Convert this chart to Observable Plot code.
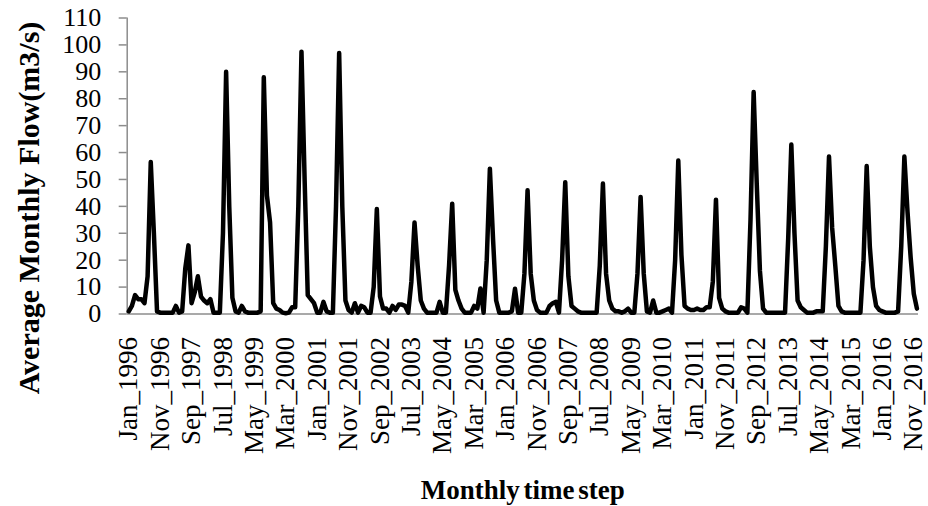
<!DOCTYPE html>
<html>
<head>
<meta charset="utf-8">
<script src="https://cdn.jsdelivr.net/npm/d3@7"></script>
<script src="https://cdn.jsdelivr.net/npm/@observablehq/plot@0.6"></script>
<style>
  html, body { margin: 0; padding: 0; background: #fff; }
  #chart svg { display: block; }
</style>
</head>
<body>
<div id="chart"></div>
<script>
// Average monthly flow (m3/s), one value per month, Jan 1996 .. Dec 2016
const flow = [
  1, 3, 7, 5.5, 5.5, 4, 14, 56.5, 30, 1, 0.5, 0.5,
  0.5, 0.5, 0.5, 3, 0.5, 1, 17, 25.5, 4, 8, 14, 6.5,
  5, 4, 5.5, 0.5, 0.5, 0.5, 30, 90, 40, 6, 1, 0.5,
  3, 1, 0.5, 0.5, 0.5, 0.5, 1, 88, 44, 34, 4, 2,
  1.5, 0.5, 0.3, 0.5, 2.5, 2.5, 40, 97.5, 50, 7, 5.5, 4,
  0.5, 0.5, 4.5, 1, 0.5, 0.5, 40, 97, 40, 5, 1.5, 0.5,
  4, 0.5, 3, 2.5, 0.5, 0.5, 10, 39, 6.5, 2, 2, 0.5,
  3, 1.5, 3.5, 3.5, 3, 0.5, 12, 34, 18, 5, 2, 0.5,
  0.5, 0.5, 0.5, 4.5, 0.5, 0.5, 18, 41, 9, 5, 2, 0.5,
  0.5, 0.5, 3, 2, 9.5, 0.5, 20, 54, 28, 5, 0.5, 0.5,
  0.5, 0.5, 1, 9.4, 0.5, 0.5, 15, 46, 15, 5, 1.5, 0.5,
  0.5, 0.5, 3, 4, 4.5, 0.5, 20, 49, 14, 3, 2, 1,
  0.5, 0.5, 0.5, 0.5, 0.5, 0.5, 18, 48.5, 15, 5, 2, 1,
  1, 0.5, 1, 2, 0.5, 0.5, 15, 43.5, 15, 1, 0.5, 5,
  0.5, 0.5, 1, 1.5, 2, 0.5, 20, 57, 22, 3, 2, 1.5,
  1.5, 2, 1.5, 1.5, 2.5, 2.5, 12, 42.5, 6, 2, 1, 0.5,
  0.5, 0.5, 0.5, 2.5, 2, 0.5, 35, 82.5, 48, 16, 2, 0.5,
  0.5, 0.5, 0.5, 0.5, 0.5, 0.5, 28, 63, 30, 5, 2.5, 1.5,
  0.5, 0.5, 0.5, 1, 1, 1, 25, 58.5, 32, 18, 3, 1,
  0.5, 0.5, 0.5, 0.5, 0.5, 0.5, 20, 55, 25, 10, 3, 1.5,
  1, 0.5, 0.5, 0.5, 0.5, 1, 25, 58.5, 38, 21, 7.5, 2
];

const tickLabels = [
  "Jan_1996", "Nov_1996", "Sep_1997", "Jul_1998", "May_1999", "Mar_2000",
  "Jan_2001", "Nov_2001", "Sep_2002", "Jul_2003", "May_2004", "Mar_2005",
  "Jan_2006", "Nov_2006", "Sep_2007", "Jul_2008", "May_2009", "Mar_2010",
  "Jan_2011", "Nov_2011", "Sep_2012", "Jul_2013", "May_2014", "Mar_2015",
  "Jan_2016", "Nov_2016"
];
const tickStep = 10; // months between labelled ticks
const yTicks = [0, 10, 20, 30, 40, 50, 60, 70, 80, 90, 100, 110];

const yTitle = "Average Monthly Flow(m3/s)";
const xTitle = "Monthly time step";

const data = flow.map((v, i) => ({month: i, flow: v}));
const tickPos = tickLabels.map((_, k) => k * tickStep);
const gray = "#8c8c8c";
const serif = "Liberation Serif";

const chart = Plot.plot({
  width: 928,
  height: 506,
  marginLeft: 126.7,
  marginRight: 10,
  marginTop: 17.5,
  marginBottom: 192.5,
  style: {background: "#fff", color: "#000", fontFamily: serif},
  x: {domain: [-0.5, flow.length - 0.5]},
  y: {domain: [0, 110]},
  marks: [
    Plot.ruleY([0], {stroke: gray, strokeWidth: 1.5}),
    Plot.ruleX([-0.5], {stroke: gray, strokeWidth: 1.5}),
    Plot.axisY({ticks: yTicks, tickSize: 8, tickPadding: 18, fontSize: 26, stroke: gray, strokeWidth: 1.5, fill: "#000", label: null}),
    Plot.axisX({ticks: tickPos, tickFormat: d => tickLabels[Math.round(d / tickStep)], tickRotate: -90, tickSize: 0, tickPadding: 23, fontSize: 27, fill: "#000", label: null}),
    Plot.lineY(data, {x: "month", y: "flow", stroke: "#000", strokeWidth: 4.5, strokeLinejoin: "round", strokeLinecap: "round"}),
    Plot.text([yTitle], {frameAnchor: "left", rotate: -90, dx: -97.7, dy: 42, fontSize: 30, fontWeight: "bold", fill: "#000", textAnchor: "middle", lineAnchor: "middle"}),
    Plot.text([xTitle], {frameAnchor: "bottom", dy: 176.5, fontSize: 27, fontWeight: "bold", fill: "#000", textAnchor: "middle", lineAnchor: "middle", className: "xtitle"})
  ]
});
const svgSel = d3.select(chart);
svgSel.attr("font-family", serif);
svgSel.selectAll("g, text").attr("font-family", serif).style("font-family", serif);
svgSel.selectAll(".xtitle text").attr("word-spacing", -3).style("word-spacing", "-3px");
document.getElementById("chart").appendChild(chart);
</script>
</body>
</html>
